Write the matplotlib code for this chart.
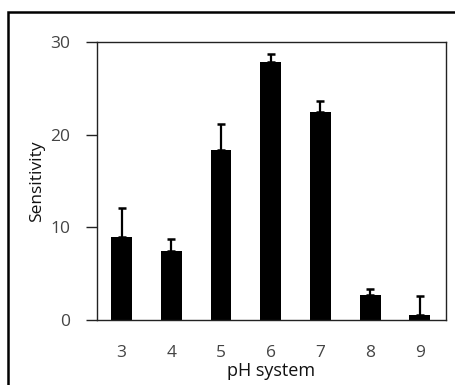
import numpy as np
import matplotlib.pyplot as plt
from matplotlib.patches import Rectangle

# pH values and measured sensitivity (mean + upper error)
ph = ["3", "4", "5", "6", "7", "8", "9"]
sensitivity = [9.0, 7.4, 18.3, 27.8, 22.4, 2.7, 0.5]
error = [3.1, 1.3, 2.9, 0.9, 1.2, 0.6, 2.1]

plt.rcParams['font.family'] = ['Open Sans', 'DejaVu Sans']

fig = plt.figure(figsize=(4.55, 3.85), dpi=100)
ax = fig.add_axes([0.2125, 0.1688, 0.7671, 0.7221])

x = np.arange(len(ph))
ax.bar(x, sensitivity, width=0.42, color="black", zorder=2)
ax.errorbar(x, sensitivity, yerr=[np.zeros(len(error)), error],
            fmt="none", ecolor="black", elinewidth=1.6, capsize=3,
            capthick=1.8, zorder=3)

ax.set_xlim(-0.5, len(ph) - 0.48)
ax.set_ylim(0, 30)
ax.set_yticks([0, 10, 20, 30])
ax.set_xticks(x)
ax.set_xticklabels(ph)

for s in ax.spines.values():
    s.set_linewidth(1.0)
    s.set_color("#222222")

ax.tick_params(axis="y", direction="out", length=8, width=1.0,
               pad=11, labelsize=12.5, labelcolor="#444444", color="#222222")
ax.tick_params(axis="x", length=0, pad=18, labelsize=12.5,
               labelcolor="#444444")

ax.set_ylabel("Sensitivity", fontsize=12.5, color="#111111", labelpad=4)
ax.set_xlabel("pH system", fontsize=13, color="#111111", labelpad=1)

# outer frame around the figure
fig.patches.append(Rectangle((7.5 / 455, -0.1), 1.2, 1 - 12 / 385 + 0.1,
                             transform=fig.transFigure, fill=False,
                             edgecolor="black", linewidth=1.8))

fig.savefig("out.png", dpi=100)
